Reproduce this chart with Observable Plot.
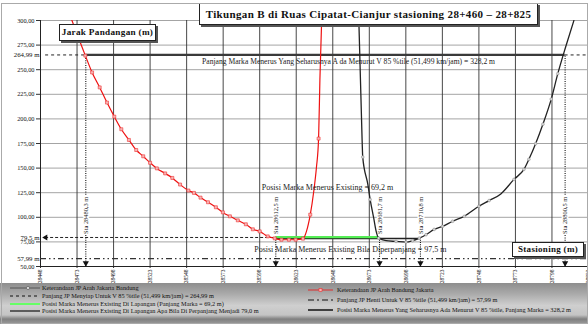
<!DOCTYPE html>
<html><head><meta charset="utf-8">
<script src="https://cdn.jsdelivr.net/npm/d3@7"></script>
<script src="https://cdn.jsdelivr.net/npm/@observablehq/plot@0.6"></script>
<style>
body{margin:0;background:#fff;}
#wrap{position:relative;width:588px;height:324px;overflow:hidden;font-family:"Liberation Serif",serif;}
#wrap svg{display:block;}
.box{position:absolute;background:#fff;border:1px solid #222;box-shadow:2px 2px 0 #555;font-weight:bold;color:#111;text-align:center;white-space:nowrap;font-family:"Liberation Serif",serif;}
#legend{position:absolute;left:0;top:283px;width:588px;height:41px;background:linear-gradient(to bottom,#8e8e8e 0%,#a8a8a8 25%,#cfcfcf 55%,#c4c4c4 78%,#808080 88%,#9a9a9a 100%);}
.li{position:absolute;font-size:6.3px;white-space:nowrap;color:#111;display:flex;align-items:center;}
.li svg{margin-right:2px;}
#border{position:absolute;left:1px;top:3px;width:585px;height:319px;border:1px solid #aaa;pointer-events:none;}
</style></head><body>
<div id="wrap"></div>
<script>
// ---------- data ----------
const xTicks = [28448, 28473, 28498, 28523, 28548, 28573, 28598, 28623, 28648, 28673, 28698, 28723, 28748, 28773, 28798, 28823];
const yTicks = [50, 75, 100, 125, 150, 175, 200, 225, 250, 275, 300];

// Keterandaan JP Arah Bandung Jakarta (red)
const redX = [28469.1, 28478.7, 28483.3, 28488.5, 28493.5, 28498.5, 28503.3, 28508.5, 28513.5, 28518.3, 28523, 28527.6, 28533.3, 28538.2, 28543.5, 28549.2, 28553, 28557.5, 28562.6, 28568, 28572.8, 28577.6, 28583, 28588.5, 28593.3, 28598, 28603.5, 28608.3, 28612.9, 28618, 28622.6, 28627.6, 28630, 28632.6, 28635, 28636.8, 28638.3, 28639.2, 28640.4];
const redY = [301.7, 264.3, 247.2, 232, 216.6, 202.3, 189.5, 178.6, 168.4, 162, 155.4, 149.7, 144.6, 140, 133.3, 127.2, 124.8, 120, 115.3, 110.2, 105, 101, 96.9, 92.9, 87.8, 85.7, 80.6, 78.6, 77.2, 77.2, 77.2, 78.3, 85.7, 102.7, 126.5, 150.3, 180, 240, 300];
const redMark = [0, 1,1,1,1,1,1,1,1,1,1,1,1,1,1,1,1,1,1,1,1,1,1,1,1,1,1,1,1,1,1,1, 0,1,0,0,1,0,0];

// Keterandaan JP Arah Jakarta Bandung (black, grey markers)
const blackX = [28665.8, 28668.1, 28668.5, 28672, 28673.6, 28676, 28677.7, 28679.4, 28684.5, 28691.3, 28698.1, 28702.6, 28707.2, 28711.8, 28717.4, 28723.1, 28730, 28738, 28748, 28755, 28763, 28772, 28778.8, 28782.2, 28786.8, 28791.8, 28797.5, 28802, 28807.3, 28813];
const blackY = [302, 177.6, 161.2, 133.4, 118, 99.3, 85.7, 78.9, 76.2, 75.5, 74.8, 76.2, 78.9, 82.3, 87.7, 90.8, 96, 101, 111.2, 117, 123.8, 138.5, 148.7, 158.9, 174.8, 194.6, 220.1, 246, 272.8, 300];
const blackMark = [0,0,1,0,1,0,0,1,0,1,1,1,1,1,1,1,1,1,1,1,0,1,1,1,1,1,1,1,0,0];

// reference lengths / positions
const jpMenyiap = 264.99;   // Panjang JP Menyiap
const jpHenti = 57.99;      // Panjang JP Henti
const markaExisting = 79.5; // existing marking level
const markaStart = 28451.5;
const staX = [28479, 28609, 28680, 28708, 28807];
const staLabel = ["Sta 28480,3 m", "Sta 28612,5 m", "Sta 28681,7 m", "Sta 28710,8 m", "Sta 28800,5 m"];
const staTop = [264.99, 79.5, 79.5, 79.5, 264.99];
const staLabelY = 102;
const markaSeharusnya = [28479, 28807];  // 328,2 m
const markaGreen = [28609, 28680];       // 69,2 m
const markaExtended = [28609, 28708];    // 97,5 m

const customY = [264.99, 79.5, 57.99];
const customYLabel = ["264,99 m", "79,5 m", "57,99 m"];

const notes = [
  {x: 28658.8, y: 258.3, t: "Panjang Marka Menerus Yang Seharusnya A da Menurut V 85 %tile (51,499 km/jam) = 328,2 m", s: 7.6},
  {x: 28644.4, y: 130.3, t: "Posisi Marka Menerus Existing = 69,2 m", s: 8},
  {x: 28660, y: 67.3, t: "Posisi Marka Menerus Existing Bila Diperpanjang = 97,5 m", s: 8}
];

const titleText = "Tikungan B di Ruas Cipatat-Cianjur stasioning 28+460 \u2013 28+825";
const yTitle = "Jarak Pandangan (m)";
const xTitle = "Stasioning (m)";

const legendLeft = [
  "Keterandaan JP Arah Jakarta Bandung",
  "Panjang JP Menyiap Untuk V 85 %tile (51,499 km/jam) = 264,99 m",
  "Posisi Marka Menerus Existing Di Lapangan (Panjang Marka = 69,2 m)",
  "Posisi Marka Menerus Existing Di Lapangan Apa Bila Di Perpanjang Menjadi 79,0 m"
];
const legendRight = [
  "Keterandaan JP Arah Bandung Jakarta",
  "Panjang JP Henti Untuk V 85 %tile (51,499 km/jam) = 57,99 m",
  "Posisi Marka Menerus Yang Seharusnya Ada Menurut V 85 %tile, Panjang Marka = 328,2 m"
];

// ---------- build ----------
const red = redX.map((x, i) => ({x, y: redY[i], m: redMark[i]}));
const black = blackX.map((x, i) => ({x, y: blackY[i], m: blackMark[i]}));
const sta = staX.map((x, i) => ({x, top: staTop[i], label: staLabel[i]}));
const cy = customY.map((v, i) => ({v, label: customYLabel[i]}));
const fmt = d => d.toFixed(2).replace(".", ",");
const F = "Liberation Serif";

const chart = Plot.plot({
  width: 588, height: 283,
  marginLeft: 40, marginRight: 0, marginTop: 20, marginBottom: 17,
  x: {domain: [28448, 28823]},
  y: {domain: [50, 300]},
  style: {fontFamily: F, background: "white", color: "#111", overflow: "visible"},
  marks: [
    Plot.gridY(yTicks, {stroke: "#9a9a9a", strokeOpacity: 1, strokeWidth: 0.9}),
    Plot.gridX(xTicks, {stroke: "#333", strokeOpacity: 1, strokeWidth: 0.9}),
    Plot.axisY(yTicks, {tickFormat: fmt, fontSize: 6.3, tickSize: 4, tickPadding: 2, label: null, stroke: "#333"}),
    Plot.axisX(xTicks, {tickFormat: d => String(d), tickRotate: -90, fontSize: 5.5, tickSize: 2, tickPadding: 1, label: null, stroke: "#333"}),
    Plot.ruleX([28448], {stroke: "#222", strokeWidth: 1}),
    Plot.ruleY([50], {stroke: "#222", strokeWidth: 1}),
    // JP henti dash-dot
    Plot.ruleY([jpHenti], {stroke: "#333", strokeWidth: 1.3, strokeDasharray: "6,3,1.5,3,1.5,3"}),
    // JP menyiap dashed ends
    Plot.ruleY([jpMenyiap], {x1: markaStart, x2: markaSeharusnya[0], stroke: "#222", strokeWidth: 1, strokeDasharray: "3,3"}),
    Plot.ruleY([jpMenyiap], {x1: markaSeharusnya[1], x2: 28823, stroke: "#222", strokeWidth: 1, strokeDasharray: "3,3"}),
    // marka seharusnya
    Plot.ruleY([jpMenyiap], {x1: markaSeharusnya[0], x2: markaSeharusnya[1], stroke: "#3a3a3a", strokeWidth: 2.2}),
    // existing dashed to arrow
    Plot.ruleY([markaExisting], {x1: markaStart, x2: markaGreen[0], stroke: "#222", strokeWidth: 1, strokeDasharray: "3,2"}),
    Plot.dot([markaExisting], {x: () => markaStart, y: d => d, symbol: "triangle", rotate: -90, r: 2.2, fill: "#111", stroke: null}),
    // extended black and green
    Plot.ruleY([markaExisting - 1], {x1: markaExtended[0], x2: markaExtended[1], stroke: "#222", strokeWidth: 1.4}),
    Plot.ruleY([markaExisting + 0.4], {x1: markaGreen[0], x2: markaGreen[1], stroke: "#55ee55", strokeWidth: 2.4}),
    // station vertical dotted lines
    Plot.ruleX(sta, {x: "x", y1: 50, y2: "top", stroke: "#111", strokeWidth: 1.1, strokeDasharray: "1,1.3"}),
    Plot.dot(sta, {x: "x", y: () => 53.5, symbol: "triangle", rotate: 180, r: 2.3, fill: "#111", stroke: null}),
    Plot.text(sta, {x: "x", y: () => staLabelY, text: "label", rotate: -90, fontSize: 6.4, fill: "#222", stroke: "white", strokeWidth: 3}),
    // series
    Plot.line(red, {x: "x", y: "y", stroke: "#ee1111", strokeWidth: 1.2, curve: "monotone-x", clip: true}),
    Plot.dot(red.filter(d => d.m), {x: "x", y: "y", symbol: "square", r: 1.7, fill: "#f7b5b5", stroke: "#ee3333", strokeWidth: 0.6}),
    Plot.line(black, {x: "x", y: "y", stroke: "#222", strokeWidth: 1.3, curve: "monotone-x", clip: true}),
    Plot.dot(black.filter(d => d.m), {x: "x", y: "y", r: 1.4, fill: "#d5d5d5", stroke: "#888", strokeWidth: 0.5}),
    // annotations
    Plot.text(notes, {x: "x", y: "y", text: "t", fontSize: d => d.s, fill: "#222"}),
    Plot.text(cy, {y: "v", text: "label", frameAnchor: "left", textAnchor: "end", dx: -1, fontSize: 6.8, fill: "#111"})
  ]
});
const wrap = document.getElementById("wrap");
wrap.appendChild(chart);

function box(text, left, top, w, h, fs, ls) {
  const d = document.createElement("div");
  d.className = "box";
  Object.assign(d.style, {left: left + "px", top: top + "px", width: w + "px", height: h + "px", fontSize: fs + "px", lineHeight: h + "px", letterSpacing: ls + "px"});
  d.textContent = text;
  wrap.appendChild(d);
}
box(titleText, 199, 3, 337, 20, 11, 0.35);
box(yTitle, 59, 24, 95, 15, 9.2, 0.3);
box(xTitle, 512, 242, 70, 13, 9, 0.3);

// legend
const lg = document.createElement("div");
lg.id = "legend";
wrap.appendChild(lg);
const sw = {
  L0: '<line x1="0" y1="3" x2="30" y2="3" stroke="#444" stroke-width="0.8"/><circle cx="18" cy="3" r="1.6" fill="#ddd" stroke="#555" stroke-width="0.6"/>',
  L1: '<line x1="0" y1="3" x2="30" y2="3" stroke="#111" stroke-width="1" stroke-dasharray="3,3"/>',
  L2: '<line x1="0" y1="3" x2="30" y2="3" stroke="#66ff66" stroke-width="2"/>',
  L3: '<line x1="0" y1="3" x2="30" y2="3" stroke="#111" stroke-width="1.2"/>',
  R0: '<line x1="0" y1="3" x2="25" y2="3" stroke="#ee1111" stroke-width="0.8"/><rect x="11" y="1.5" width="3" height="3" fill="#f7b5b5" stroke="#e33" stroke-width="0.6"/>',
  R1: '<line x1="0" y1="3" x2="25" y2="3" stroke="#111" stroke-width="1.1" stroke-dasharray="6,3,2,3"/>',
  R2: '<line x1="0" y1="3" x2="25" y2="3" stroke="#111" stroke-width="1.5"/>'
};
const leftRows = [1, 9, 17, 24];
const rightRows = [3, 13, 23];
legendLeft.forEach((t, i) => {
  const d = document.createElement("div");
  d.className = "li";
  Object.assign(d.style, {left: "10px", top: leftRows[i] + "px"});
  d.innerHTML = '<svg width="30" height="6">' + sw["L" + i] + '</svg>';
  d.appendChild(document.createTextNode(t));
  lg.appendChild(d);
});
legendRight.forEach((t, i) => {
  const d = document.createElement("div");
  d.className = "li";
  Object.assign(d.style, {left: "308px", top: rightRows[i] + "px"});
  d.innerHTML = '<svg width="27" height="6">' + sw["R" + i] + '</svg>';
  d.appendChild(document.createTextNode(t));
  lg.appendChild(d);
});
const b = document.createElement("div");
b.id = "border";
wrap.appendChild(b);
</script>
</body></html>
